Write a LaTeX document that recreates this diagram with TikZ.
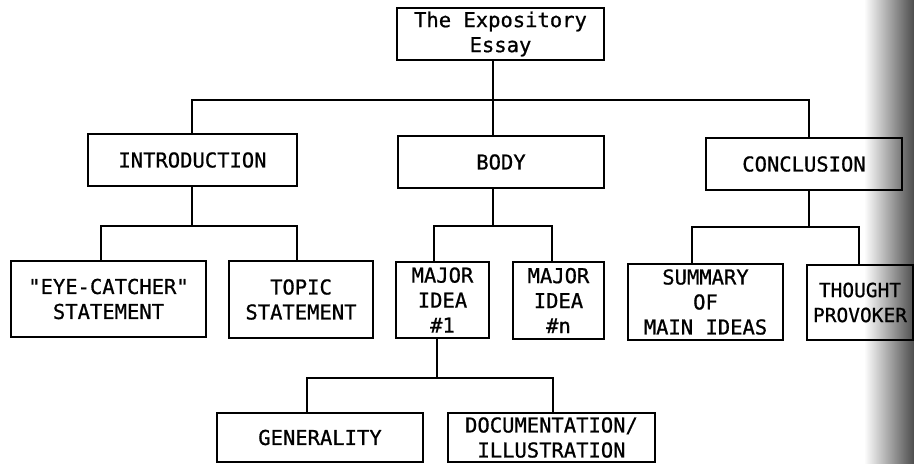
\documentclass[tikz,border=0pt]{standalone}
\usepackage{fontspec}
\newfontfamily\typewriter[FakeBold=0.8]{DejaVu Sans Mono}
\usetikzlibrary{fadings}
% darkening along the right edge of the scanned page
\tikzfading[name=pageshade, left color=transparent!100, right color=transparent!30]
\begin{document}
\begin{tikzpicture}[x=1pt,y=-1pt,
  box/.style={draw, line width=1.5pt, rectangle, inner sep=0pt, align=center,
    font=\typewriter\fontsize{20.5}{25}\selectfont},
  wire/.style={line width=1.7pt}]
\useasboundingbox (0,0) rectangle (914,464);

% boxes
\node[box, minimum width=207pt, minimum height=52pt] (essay) at (500.5,34) {The Expository\\Essay};
\node[box, minimum width=209pt, minimum height=52pt] (intro) at (192.5,160) {INTRODUCTION};
\node[box, minimum width=206pt, minimum height=52pt] (body) at (501,162) {BODY};
\node[box, minimum width=196pt, minimum height=52pt] (concl) at (804,164) {CONCLUSION};

\node[box, minimum width=195pt, minimum height=76pt] (eye) at (108.5,299) {"EYE-CATCHER"\\STATEMENT};
\node[box, minimum width=144pt, minimum height=77pt] (topic) at (301,299.5) {TOPIC\\STATEMENT};
\node[box, minimum width=93pt, minimum height=76pt] (mone) at (442.5,300) {MAJOR\\IDEA\\\#1};
\node[box, minimum width=91pt, minimum height=77pt] (mn) at (558.5,300.5) {MAJOR\\IDEA\\\#n};
\node[box, minimum width=155pt, minimum height=76pt] (summ) at (705.5,302) {SUMMARY\\OF\\MAIN IDEAS};
\node[box, minimum width=106pt, minimum height=75pt,
  font=\typewriter\fontsize{19.5}{25}\selectfont] (thought) at (860,302.5) {THOUGHT\\PROVOKER};

\node[box, minimum width=206pt, minimum height=49pt] (gen) at (320,437.5) {GENERALITY};
\node[box, minimum width=207pt, minimum height=49pt] (doc) at (551.5,437.5) {DOCUMENTATION/\\ILLUSTRATION};

% junction points of the connectors
\coordinate (tj) at (493,100);
\coordinate (tL) at (192,100);
\coordinate (tR) at (809,100);
\coordinate (iL) at (101,226);
\coordinate (iR) at (297,226);
\coordinate (bL) at (434,226);
\coordinate (bR) at (552,226);
\coordinate (cL) at (692,227);
\coordinate (cR) at (859,227);
\coordinate (mj) at (437,378);
\coordinate (mL) at (307,378);
\coordinate (mR) at (553,378);

% top level
\draw[wire] (essay.south -| tj) -- (tj);
\draw[wire] (tL |- intro.north) -- (tL) -- (tR) -- (tR |- concl.north);
\draw[wire] (tj) -- (tj |- body.north);

% introduction
\draw[wire] (intro.south -| tL) -- (tL |- iL);
\draw[wire] (iL |- eye.north) -- (iL) -- (iR) -- (iR |- topic.north);

% body
\draw[wire] (body.south -| tj) -- (tj |- bL);
\draw[wire] (bL |- mone.north) -- (bL) -- (bR) -- (bR |- mn.north);

% conclusion
\draw[wire] (concl.south -| tR) -- (tR |- cL);
\draw[wire] (cL |- summ.north) -- (cL) -- (cR) -- (cR |- thought.north);

% major idea #1
\draw[wire] (mone.south -| mj) -- (mj);
\draw[wire] (mL |- gen.north) -- (mL) -- (mR) -- (mR |- doc.north);

% page edge shadow
\fill[black, path fading=pageshade] (864,0) rectangle (914,464);
\end{tikzpicture}
\end{document}
